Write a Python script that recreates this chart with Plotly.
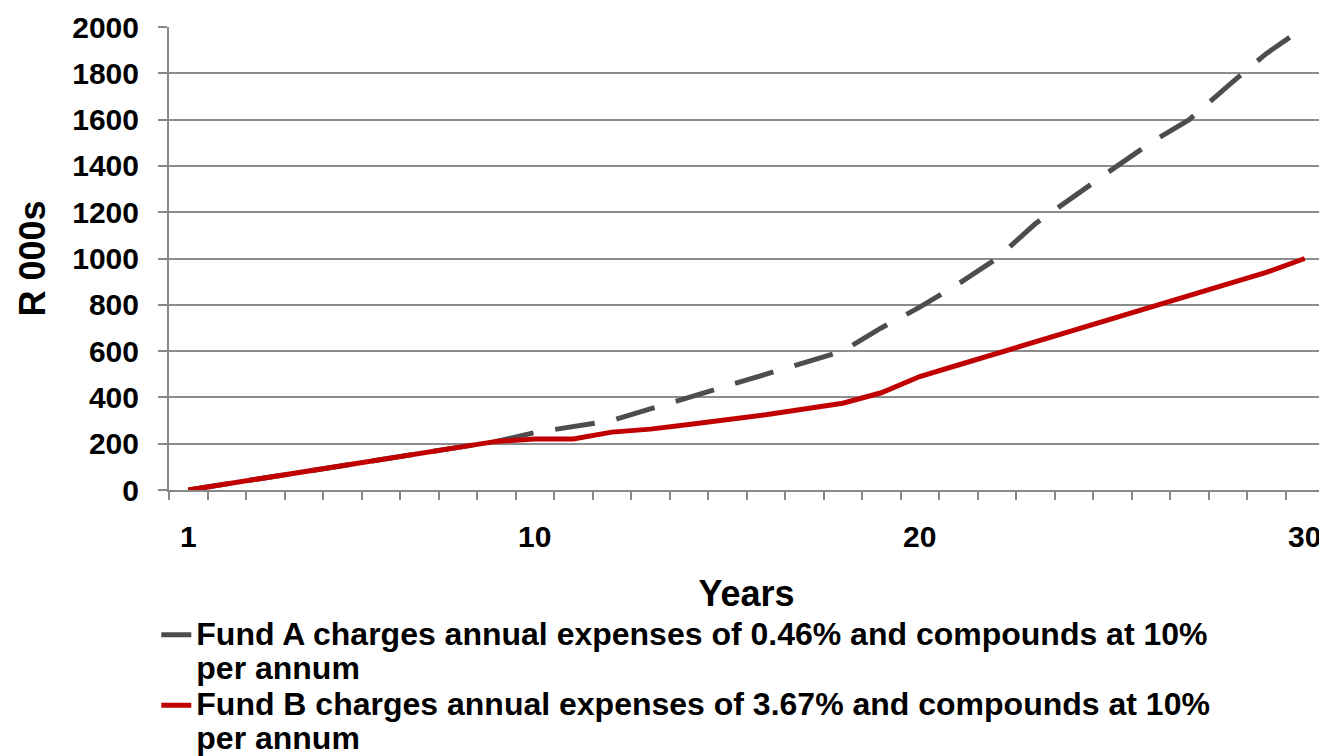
import plotly.graph_objects as go

years = list(range(1, 31))
fund_a = [0, 26, 53, 79, 106, 132, 159, 185, 210, 248, 275, 300, 350, 400, 450,
          500, 550, 600, 700, 790, 890, 1000, 1150, 1270, 1385, 1500, 1600, 1745, 1885, 2000]
fund_b = [0, 26, 53, 79, 106, 132, 159, 185, 210, 220, 220, 250, 263, 283, 303,
          325, 350, 375, 420, 490, 540, 590, 640, 690, 740, 790, 840, 890, 940, 1000]
name_a = "Fund A charges annual expenses of 0.46% and compounds at 10%<br>per annum"
name_b = "Fund B charges annual expenses of 3.67% and compounds at 10%<br>per annum"
x_tick_vals = [1, 10, 20, 30]
y_ticks = list(range(0, 2001, 200))

FONT = "Liberation Sans, Arial, sans-serif"

def big(t):
    return '<span style="font-size:32px">' + t.replace("<br>", '</span><br><span style="font-size:32px">') + '</span>'

fig = go.Figure()
fig.add_trace(go.Scatter(x=years, y=fund_a, mode="lines", name=big(name_a),
                         line=dict(color="#4d4d4d", width=5, dash="40px,22px")))
fig.add_trace(go.Scatter(x=years, y=fund_b, mode="lines", name=big(name_b),
                         line=dict(color="#c00000", width=5)))

# page body has an 8px default margin, so the figure is sized to fit the window
fig.update_layout(
    width=1319, height=748,
    margin=dict(l=161, r=3, t=19, b=266, autoexpand=False),
    paper_bgcolor="white", plot_bgcolor="white",
    font=dict(family=FONT, color="black", weight="bold"),
    showlegend=True,
    legend=dict(x=-0.011, y=-0.262, xanchor="left", yanchor="top",
                font=dict(size=26, family=FONT, color="black", weight="bold"),
                valign="top", tracegroupgap=0, bgcolor="rgba(0,0,0,0)"),
)
fig.update_xaxes(
    automargin=False,
    range=[0.5, 30.5], tickmode="array", tickvals=x_tick_vals,
    ticktext=[str(v) for v in x_tick_vals], ticks="", showgrid=False,
    showline=True, linecolor="#888888", linewidth=2, zeroline=False,
    tickfont=dict(size=30, family=FONT, weight="bold"), ticklabelstandoff=19,
    minor=dict(tickmode="linear", tick0=0.5, dtick=1, ticks="outside", ticklen=8,
               tickcolor="#888888", tickwidth=2, showgrid=False),
    title=dict(text="Years", font=dict(size=36, family=FONT, weight="bold"), standoff=29),
)
fig.update_yaxes(
    automargin=False,
    range=[0, 2000], tickmode="array", tickvals=y_ticks,
    showgrid=True, gridcolor="#8c8c8c", gridwidth=2,
    showline=True, linecolor="#888888", linewidth=2, zeroline=False,
    ticks="outside", ticklen=9, tickcolor="#888888", tickwidth=2,
    tickfont=dict(size=30, family=FONT, weight="bold"), ticklabelstandoff=13,
    title=dict(text="R 000s", font=dict(size=36, family=FONT, weight="bold"), standoff=16),
)

fig.write_html("out.html")
